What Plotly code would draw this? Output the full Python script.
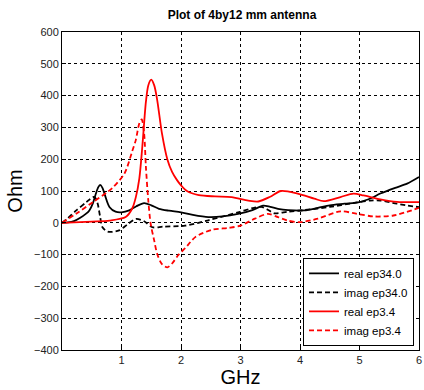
import plotly.graph_objects as go

# black real (ep34.0)
br_x = [0, 0.1, 0.2, 0.3, 0.4, 0.46, 0.52, 0.57, 0.61, 0.64, 0.68, 0.72, 0.8, 0.9, 1.0, 1.13, 1.25, 1.38, 1.5, 1.63, 1.8, 2.0, 2.2, 2.46, 2.7, 2.96, 3.2, 3.38, 3.5, 3.63, 3.8, 4.07, 4.3, 4.5, 4.75, 5.0, 5.2, 5.35, 5.6, 5.8, 6.0]
br_y = [0, 1, 5, 15, 28, 39, 62, 92, 112, 119, 110, 88, 49, 35, 33, 39, 52, 62, 55, 44, 38, 33, 25, 18, 20, 28, 40, 54, 50, 44, 40, 39, 47, 55, 60, 65, 78, 92, 110, 123, 144]

# black imag (ep34.0)
bi_x = [0, 0.1, 0.24, 0.41, 0.52, 0.56, 0.6, 0.64, 0.68, 0.77, 0.96, 1.1, 1.24, 1.38, 1.52, 1.7, 2.07, 2.46, 2.96, 3.2, 3.35, 3.45, 3.57, 3.8, 4.07, 4.5, 4.9, 5.18, 5.35, 5.63, 6.0]
bi_y = [0, 15, 39, 65, 81, 78, 60, 20, -14, -28, -24, -5, 12, 5, -14, -12, -9, 8, 33, 46, 50, 42, 30, 35, 40, 50, 62, 70, 70, 60, 49]

# red real (ep3.4)
rr_x = [0, 0.5, 0.8, 1.07, 1.18, 1.24, 1.3, 1.35, 1.41, 1.45, 1.5, 1.55, 1.6, 1.68, 1.77, 1.85, 1.93, 2.0, 2.1, 2.3, 2.57, 2.85, 3.13, 3.3, 3.5, 3.68, 3.96, 4.24, 4.4, 4.68, 4.9, 5.07, 5.35, 5.63, 6.0]
rr_y = [0, 4, 7, 18, 45, 80, 140, 240, 380, 432, 450, 432, 386, 281, 200, 160, 135, 118, 100, 87, 83, 81, 70, 67, 82, 100, 92, 76, 68, 81, 92, 86, 74, 66, 65]

# red imag (ep3.4)
ri_x = [0, 0.25, 0.52, 0.75, 0.85, 1.05, 1.18, 1.24, 1.3, 1.34, 1.38, 1.41, 1.45, 1.49, 1.55, 1.6, 1.68, 1.77, 1.85, 1.96, 2.07, 2.24, 2.52, 2.8, 3.0, 3.24, 3.46, 3.63, 3.79, 4.0, 4.3, 4.68, 4.96, 5.24, 5.57, 6.0]
ri_y = [0, 30, 65, 95, 110, 155, 225, 260, 313, 325, 281, 176, 70, -3, -56, -98, -130, -140, -128, -100, -80, -45, -22, -16, -9, 13, 28, 18, 7, 2, 13, 36, 28, 20, 23, 47]

names = ["real ep34.0", "imag ep34.0", "real ep3.4", "imag ep3.4"]
colors = ["black", "black", "red", "red"]
dashes = ["solid", "5px,3px", "solid", "5px,3px"]
xs = [br_x, bi_x, rr_x, ri_x]
ys = [br_y, bi_y, rr_y, ri_y]

x_ticks = [1, 2, 3, 4, 5, 6]
y_ticks = list(range(-400, 601, 100))

fig = go.Figure()
for x, y, n, c, d in zip(xs, ys, names, colors, dashes):
    fig.add_trace(go.Scatter(x=x, y=y, name=n, mode="lines",
                             line=dict(color=c, width=1.8, dash=d, shape="spline", smoothing=0.8)))

axis_common = dict(showline=True, linecolor="black", linewidth=1, mirror=True,
                   showgrid=True, gridcolor="black", gridwidth=1, griddash="3px,3px",
                   ticks="inside", ticklen=4, tickcolor="black", zeroline=False,
                   ticklabeloverflow="allow",
                   tickfont=dict(family="Liberation Sans, Arial", size=11, color="#222"))

fig.update_layout(
    width=424, height=390,
    margin=dict(l=62, r=2, t=32, b=40),
    paper_bgcolor="white", plot_bgcolor="white",
    title=dict(text="<b>Plot of 4by12 mm antenna</b>", x=(62 + 422) / 2 / 424, xanchor="center",
               y=1 - 15 / 390, yanchor="middle",
               font=dict(family="Liberation Sans, Arial", size=12, color="black")),
    xaxis=dict(range=[0, 6], tickvals=x_ticks,
               title=dict(text="GHz", font=dict(family="Liberation Sans, Arial", size=20, color="black"), standoff=4),
               **axis_common),
    yaxis=dict(range=[-400, 600], tickvals=y_ticks,
               title=dict(text="Ohm", font=dict(family="Liberation Sans, Arial", size=20, color="black"), standoff=6),
               **axis_common),
    legend=dict(x=0.986, y=0.013, xanchor="right", yanchor="bottom",
                bgcolor="white", bordercolor="black", borderwidth=1,
                font=dict(family="Liberation Sans, Arial", size=11.5, color="black"),
                tracegroupgap=0, itemwidth=30),
    showlegend=True,
)

fig.write_html("out.html")
